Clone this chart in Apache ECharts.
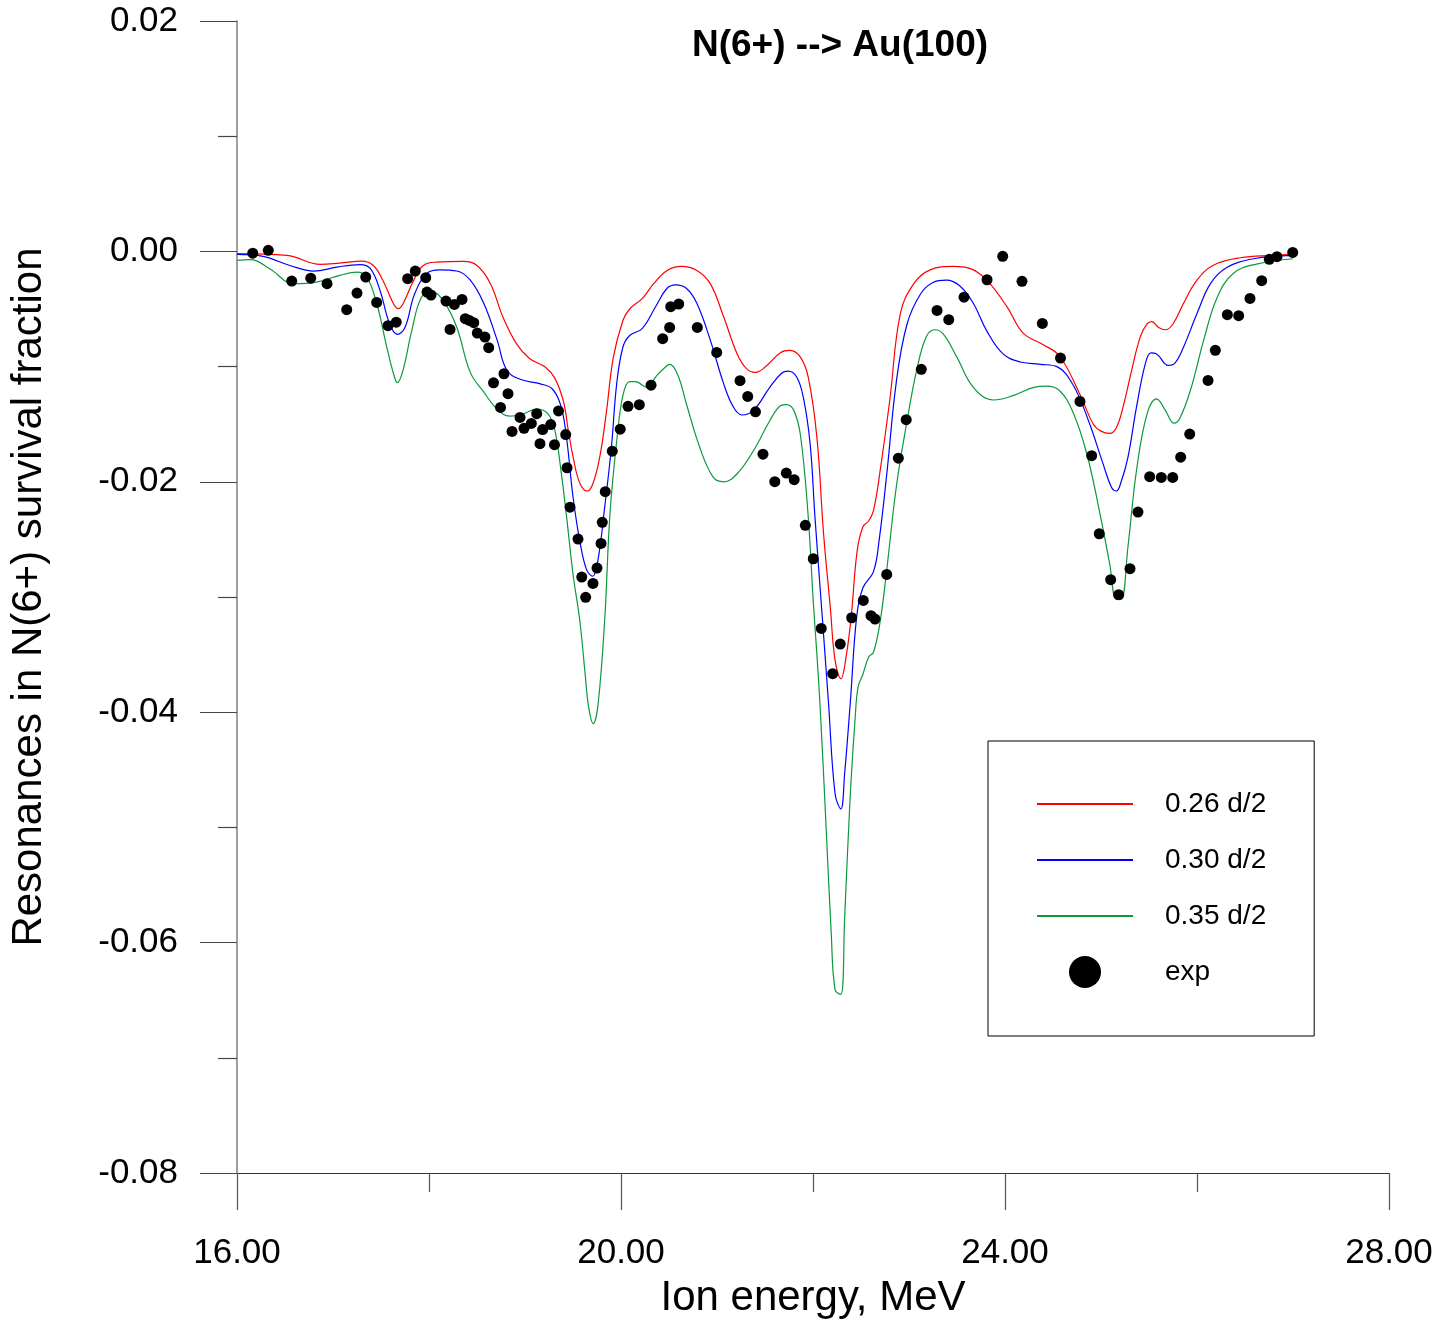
<!DOCTYPE html>
<html>
<head>
<meta charset="utf-8">
<script src="https://cdn.jsdelivr.net/npm/echarts@6/dist/echarts.min.js"></script>
<style>
html,body{margin:0;padding:0;background:#fff;}
#chart{width:1437px;height:1320px;}
</style>
</head>
<body>
<div id="chart"></div>
<script>
const titleText = 'N(6+) --> Au(100)';
const xName = 'Ion energy, MeV';
const yName = 'Resonances in N(6+) survival fraction';
const seriesNames = ['0.26 d/2', '0.30 d/2', '0.35 d/2', 'exp'];

const redX = [16.00,16.52,16.87,17.07,17.30,17.42,17.52,17.63,17.68,17.73,17.84,17.94,18.08,18.36,18.50,18.64,18.77,18.91,19.05,19.21,19.31,19.40,19.45,19.50,19.57,19.65,19.71,19.78,19.85,19.92,20.02,20.09,20.22,20.34,20.48,20.63,20.79,20.93,21.07,21.21,21.31,21.40,21.52,21.66,21.76,21.87,21.95,22.04,22.11,22.18,22.23,22.29,22.35,22.40,22.46,22.52,22.58,22.63,22.70,22.80,22.91,23.05,23.22,23.46,23.64,23.81,24.02,24.19,24.40,24.57,24.78,24.92,25.00,25.09,25.16,25.23,25.32,25.41,25.48,25.53,25.60,25.67,25.75,25.86,26.00,26.17,26.45,26.80,27.00];
const redY = [-0.0002,-0.00035,-0.00113,-0.00101,-0.00084,-0.00122,-0.00252,-0.00454,-0.00497,-0.00454,-0.00252,-0.00122,-0.00093,-0.00087,-0.00122,-0.0028,-0.0057,-0.0080,-0.00932,-0.01004,-0.0110,-0.0130,-0.0155,-0.0178,-0.0201,-0.0208,-0.0201,-0.0178,-0.0138,-0.0092,-0.0060,-0.0050,-0.0041,-0.0028,-0.00165,-0.0013,-0.00165,-0.0028,-0.0057,-0.0089,-0.0102,-0.0105,-0.0099,-0.0088,-0.0086,-0.0092,-0.0109,-0.0161,-0.0245,-0.0309,-0.0355,-0.0371,-0.0349,-0.0315,-0.0260,-0.0239,-0.0234,-0.0225,-0.0190,-0.0129,-0.0054,-0.0028,-0.0016,-0.0013,-0.0015,-0.0025,-0.0048,-0.0071,-0.0081,-0.0091,-0.0124,-0.0150,-0.0156,-0.0158,-0.0153,-0.0135,-0.0103,-0.0074,-0.0063,-0.0061,-0.0066,-0.0068,-0.0063,-0.0045,-0.0025,-0.0012,-0.00055,-0.00035,-0.00026];

const blueX = [16.00,16.27,16.55,16.80,17.04,17.28,17.39,17.49,17.59,17.67,17.75,17.85,17.98,18.11,18.29,18.43,18.57,18.71,18.81,18.95,19.16,19.28,19.37,19.43,19.50,19.57,19.64,19.705,19.76,19.83,19.90,19.955,20.02,20.09,20.22,20.36,20.48,20.57,20.68,20.79,20.93,21.07,21.17,21.26,21.38,21.55,21.67,21.74,21.83,21.90,21.97,22.02,22.09,22.16,22.23,22.29,22.33,22.39,22.455,22.52,22.63,22.69,22.77,22.87,22.98,23.12,23.25,23.39,23.53,23.67,23.81,23.98,24.16,24.37,24.54,24.71,24.87,25.02,25.11,25.16,25.21,25.28,25.37,25.46,25.52,25.58,25.70,25.77,25.86,26.00,26.14,26.31,26.59,27.00];
const blueY = [-0.00026,-0.00043,-0.00122,-0.00171,-0.00136,-0.00115,-0.0015,-0.0034,-0.0063,-0.0072,-0.0066,-0.0037,-0.0019,-0.0016,-0.0017,-0.0025,-0.0045,-0.0077,-0.0103,-0.0111,-0.0115,-0.0119,-0.0133,-0.0160,-0.0213,-0.0251,-0.0276,-0.0282,-0.0268,-0.0222,-0.0170,-0.0115,-0.0083,-0.0073,-0.0067,-0.0048,-0.0032,-0.0029,-0.0032,-0.0045,-0.0077,-0.0115,-0.0135,-0.0142,-0.0138,-0.0118,-0.0106,-0.0104,-0.0109,-0.0127,-0.0167,-0.0230,-0.0310,-0.0390,-0.0471,-0.0484,-0.0453,-0.0390,-0.0317,-0.0292,-0.0278,-0.0250,-0.0192,-0.0112,-0.0063,-0.0037,-0.0027,-0.0025,-0.0030,-0.0045,-0.0069,-0.0089,-0.0096,-0.0098,-0.0100,-0.0116,-0.0147,-0.0184,-0.0205,-0.0208,-0.0200,-0.0179,-0.0135,-0.0098,-0.0088,-0.0089,-0.0099,-0.0097,-0.0083,-0.0054,-0.0028,-0.0014,-0.00064,-0.00035];

const greenX = [16.00,16.14,16.34,16.59,16.83,17.07,17.25,17.35,17.455,17.56,17.63,17.67,17.73,17.82,17.92,18.03,18.15,18.29,18.43,18.57,18.71,18.84,18.98,19.12,19.24,19.31,19.365,19.43,19.50,19.57,19.63,19.66,19.71,19.76,19.83,19.885,19.955,20.02,20.09,20.15,20.27,20.37,20.48,20.51,20.60,20.68,20.82,20.96,21.07,21.21,21.38,21.55,21.66,21.72,21.80,21.87,21.95,22.00,22.07,22.14,22.19,22.23,22.29,22.33,22.385,22.44,22.47,22.52,22.58,22.63,22.70,22.77,22.87,22.98,23.08,23.18,23.27,23.36,23.50,23.67,23.88,24.09,24.30,24.43,24.57,24.71,24.85,24.99,25.09,25.16,25.21,25.28,25.37,25.48,25.58,25.67,25.76,25.82,25.93,26.07,26.21,26.38,26.62,27.00];
const greenY = [-0.00078,-0.00072,-0.0015,-0.0028,-0.00266,-0.00208,-0.0018,-0.0022,-0.0045,-0.0083,-0.0106,-0.0114,-0.0103,-0.0069,-0.0040,-0.0035,-0.0043,-0.0066,-0.0105,-0.0122,-0.0137,-0.0143,-0.0141,-0.0137,-0.0141,-0.0155,-0.0184,-0.0228,-0.0280,-0.0320,-0.0370,-0.0394,-0.0410,-0.0394,-0.0320,-0.0228,-0.0165,-0.0125,-0.0113,-0.0113,-0.0118,-0.0108,-0.0099,-0.0098,-0.0109,-0.0132,-0.0170,-0.0196,-0.0200,-0.0193,-0.0173,-0.0147,-0.0134,-0.0133,-0.0138,-0.0160,-0.0230,-0.0300,-0.0389,-0.0506,-0.0592,-0.0641,-0.0645,-0.0578,-0.0477,-0.0404,-0.0378,-0.0367,-0.0352,-0.0348,-0.0321,-0.0275,-0.0203,-0.0147,-0.0103,-0.0074,-0.0068,-0.0072,-0.0092,-0.0118,-0.0129,-0.0125,-0.0118,-0.0117,-0.0121,-0.0140,-0.0175,-0.0228,-0.0271,-0.0302,-0.0302,-0.0257,-0.0190,-0.0141,-0.0128,-0.0138,-0.0149,-0.0145,-0.0121,-0.0077,-0.0040,-0.0019,-0.0011,-0.00064];

const expX = [16.164,16.326,16.570,16.768,16.938,17.143,17.250,17.341,17.455,17.573,17.659,17.778,17.857,17.966,17.979,18.021,18.177,18.219,18.264,18.344,18.378,18.420,18.466,18.503,18.583,18.622,18.672,18.745,18.781,18.823,18.865,18.948,18.990,19.066,19.122,19.156,19.184,19.268,19.307,19.349,19.424,19.438,19.469,19.552,19.591,19.632,19.708,19.750,19.792,19.805,19.836,19.909,19.992,20.073,20.191,20.313,20.434,20.507,20.518,20.601,20.795,20.997,21.240,21.320,21.401,21.479,21.602,21.722,21.804,21.920,22.003,22.086,22.205,22.284,22.403,22.524,22.604,22.646,22.768,22.889,22.971,23.128,23.292,23.414,23.573,23.813,23.976,24.177,24.389,24.578,24.781,24.903,24.982,25.101,25.184,25.302,25.385,25.507,25.628,25.747,25.830,25.924,26.115,26.191,26.316,26.434,26.552,26.674,26.753,26.833,26.997];
const expY = [-0.00015,0.00009,-0.00258,-0.00232,-0.00280,-0.00506,-0.00362,-0.00223,-0.00443,-0.00645,-0.00614,-0.00237,-0.00171,-0.00228,-0.00353,-0.00379,-0.00431,-0.00677,-0.00460,-0.00417,-0.00584,-0.00599,-0.00619,-0.00709,-0.00744,-0.00836,-0.01141,-0.01354,-0.01062,-0.01235,-0.01563,-0.01441,-0.01536,-0.01493,-0.01409,-0.01669,-0.01547,-0.01503,-0.01678,-0.01385,-0.01590,-0.01878,-0.02220,-0.02497,-0.02827,-0.03003,-0.02882,-0.02749,-0.02535,-0.02352,-0.02086,-0.01734,-0.01543,-0.01345,-0.01331,-0.01161,-0.00758,-0.00660,-0.00480,-0.00457,-0.00660,-0.00877,-0.01122,-0.01259,-0.01393,-0.01760,-0.01999,-0.01924,-0.01982,-0.02378,-0.02668,-0.03273,-0.03666,-0.03409,-0.03180,-0.03030,-0.03162,-0.03192,-0.02804,-0.01795,-0.01461,-0.01024,-0.00512,-0.00593,-0.00397,-0.00246,-0.00043,-0.00260,-0.00625,-0.00926,-0.01302,-0.01773,-0.02451,-0.02850,-0.02980,-0.02754,-0.02263,-0.01956,-0.01962,-0.01962,-0.01786,-0.01586,-0.01120,-0.00859,-0.00549,-0.00558,-0.00408,-0.00254,-0.00069,-0.00046,-0.00009];

const zip = (xs, ys) => xs.map((x, i) => [x, ys[i]]);
const FONT = 'Liberation Sans, Arial, Helvetica, sans-serif';

const chart = echarts.init(document.getElementById('chart'), null, {renderer: 'canvas'});

const lineSeries = (name, xs, ys, color) => ({
  name: name,
  type: 'line',
  data: zip(xs, ys),
  symbol: 'none',
  showSymbol: false,
  smooth: 0.4,
  lineStyle: {color: color, width: 1.2},
  itemStyle: {color: color},
  emphasis: {disabled: true},
  animation: false,
  z: 2
});

const hiddenSymbol = {color: 'rgba(0,0,0,0)', opacity: 0, borderWidth: 0};

chart.setOption({
  animation: false,
  backgroundColor: '#ffffff',
  title: {
    text: titleText,
    left: 687,
    top: 22,
    textStyle: {fontFamily: FONT, fontWeight: 'bold', fontSize: 37, color: '#000'}
  },
  grid: {left: 237, top: 21, width: 1152, height: 1152, containLabel: false, outerBoundsMode: 'none'},
  legend: {
    orient: 'vertical',
    left: 988,
    top: 741,
    padding: [47, 48, 48, 48],
    itemWidth: 96,
    itemHeight: 32,
    itemGap: 24,
    borderColor: '#000',
    borderWidth: 1,
    data: [
      {name: seriesNames[0], itemStyle: hiddenSymbol},
      {name: seriesNames[1], itemStyle: hiddenSymbol},
      {name: seriesNames[2], itemStyle: hiddenSymbol},
      {name: seriesNames[3]}
    ],
    textStyle: {fontFamily: FONT, fontSize: 28, color: '#000', padding: [0, 0, 0, 27], lineHeight: 32}
  },
  xAxis: {
    type: 'value',
    min: 16,
    max: 28,
    interval: 4,
    name: xName,
    nameLocation: 'middle',
    nameGap: 104,
    nameTextStyle: {fontFamily: FONT, fontSize: 42, color: '#000'},
    axisLine: {show: true, onZero: false, lineStyle: {color: '#333', width: 1.2}},
    axisTick: {show: true, inside: false, length: 37, lineStyle: {color: '#555', width: 1.2}},
    minorTick: {show: true, splitNumber: 2, length: 19, lineStyle: {color: '#555', width: 1.2}},
    splitLine: {show: false},
    axisLabel: {fontFamily: FONT, fontSize: 35, color: '#000', margin: 63, formatter: v => v.toFixed(2)}
  },
  yAxis: {
    type: 'value',
    min: -0.08,
    max: 0.02,
    interval: 0.02,
    name: yName,
    nameLocation: 'middle',
    nameRotate: 90,
    nameGap: 187,
    nameTextStyle: {fontFamily: FONT, fontSize: 42, color: '#000'},
    axisLine: {show: true, onZero: false, lineStyle: {color: '#888', width: 1.6}},
    axisTick: {show: true, inside: false, length: 37, lineStyle: {color: '#444', width: 1.2}},
    minorTick: {show: true, splitNumber: 2, length: 19, lineStyle: {color: '#444', width: 1.2}},
    splitLine: {show: false},
    axisLabel: {fontFamily: FONT, fontSize: 35, color: '#000', margin: 59, formatter: v => (Math.abs(v) < 1e-9 ? 0 : v).toFixed(2)}
  },
  series: [
    lineSeries(seriesNames[0], redX, redY, '#ff0000'),
    lineSeries(seriesNames[1], blueX, blueY, '#0000ff'),
    lineSeries(seriesNames[2], greenX, greenY, '#0a9a3c'),
    {
      name: seriesNames[3],
      type: 'scatter',
      data: zip(expX, expY),
      symbol: 'circle',
      symbolSize: 11,
      itemStyle: {color: '#000', opacity: 1},
      emphasis: {disabled: true},
      animation: false,
      z: 3
    }
  ]
});
</script>
</body>
</html>
